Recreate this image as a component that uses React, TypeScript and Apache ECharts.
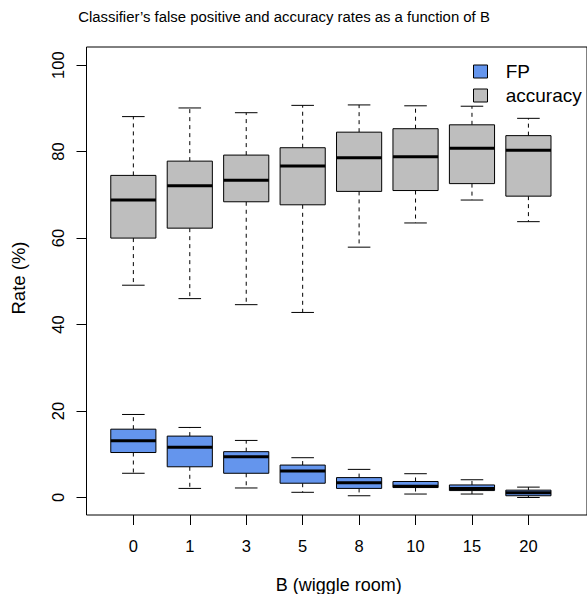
import React, { useEffect, useRef } from "react";
import * as echarts from "echarts";

const categories = ["0", "1", "3", "5", "8", "10", "15", "20"];

const accLow = [49.1, 46.0, 44.6, 42.8, 57.9, 63.5, 68.8, 63.8];
const accQ1 = [60.0, 62.3, 68.4, 67.7, 70.8, 71.0, 72.6, 69.7];
const accMed = [68.8, 72.1, 73.4, 76.7, 78.6, 78.8, 80.8, 80.3];
const accQ3 = [74.5, 77.8, 79.2, 80.9, 84.5, 85.3, 86.2, 83.7];
const accHigh = [88.1, 90.1, 89.0, 90.7, 90.8, 90.6, 90.5, 87.7];

const fpLow = [5.6, 2.1, 2.2, 1.2, 0.4, 0.8, 0.8, 0.0];
const fpQ1 = [10.4, 7.1, 5.6, 3.3, 2.1, 2.3, 1.6, 0.4];
const fpMed = [13.1, 11.6, 9.4, 6.1, 3.4, 2.6, 2.1, 1.1];
const fpQ3 = [15.8, 14.2, 10.6, 7.5, 4.6, 3.7, 2.9, 1.7];
const fpHigh = [19.2, 16.2, 13.2, 9.2, 6.5, 5.5, 4.1, 2.4];

const yTicks = [0, 20, 40, 60, 80, 100];

const FONT = "'Liberation Sans', Arial, Helvetica, sans-serif";
const FP_COLOR = "#6495ED";
const ACC_COLOR = "#BEBEBE";

function buildData(low: number[], q1: number[], med: number[], q3: number[], high: number[]) {
  return categories.map((_, i) => [i + 1, low[i], q1[i], med[i], q3[i], high[i]]);
}

function renderBox(params: any, api: any) {
  const x = api.value(0);
  const pLow = api.coord([x, api.value(1)]);
  const pQ1 = api.coord([x, api.value(2)]);
  const pMed = api.coord([x, api.value(3)]);
  const pQ3 = api.coord([x, api.value(4)]);
  const pHigh = api.coord([x, api.value(5)]);
  const w = api.size([0.8, 0])[0];
  const cx = pLow[0];
  const fill = api.visual("color");
  const dash = { stroke: "#000", lineWidth: 1, lineDash: [4, 4] };
  const solid = { stroke: "#000", lineWidth: 1 };
  return {
    type: "group",
    children: [
      { type: "line", shape: { x1: cx, y1: pQ3[1], x2: cx, y2: pHigh[1] }, style: dash },
      { type: "line", shape: { x1: cx, y1: pQ1[1], x2: cx, y2: pLow[1] }, style: dash },
      { type: "line", shape: { x1: cx - w / 4, y1: pHigh[1], x2: cx + w / 4, y2: pHigh[1] }, style: solid },
      { type: "line", shape: { x1: cx - w / 4, y1: pLow[1], x2: cx + w / 4, y2: pLow[1] }, style: solid },
      {
        type: "rect",
        shape: { x: cx - w / 2, y: pQ3[1], width: w, height: pQ1[1] - pQ3[1] },
        style: { fill, stroke: "#000", lineWidth: 1 },
      },
      {
        type: "line",
        shape: { x1: cx - w / 2, y1: pMed[1], x2: cx + w / 2, y2: pMed[1] },
        style: { stroke: "#000", lineWidth: 3 },
      },
    ],
  };
}

export default function App() {
  const ref = useRef<HTMLDivElement>(null);
  useEffect(() => {
    if (!ref.current) return;
    const chart = echarts.init(ref.current, undefined, { renderer: "svg" });
    const xTickValues = categories.map((_, i) => i + 1);
    chart.setOption({
      animation: false,
      backgroundColor: "#fff",
      textStyle: { fontFamily: FONT },
      grid: {
        left: 86.5,
        top: 47,
        width: 520,
        height: 468,
        show: true,
        borderColor: "#000",
        borderWidth: 1,
        backgroundColor: "transparent",
      },
      xAxis: {
        type: "value",
        position: "bottom",
        min: 0.17,
        max: 9.038,
        axisLine: { show: false, onZero: false },
        splitLine: { show: false },
        axisTick: { show: true, length: 10, customValues: xTickValues, lineStyle: { color: "#000", width: 1 } },
        axisLabel: {
          customValues: xTickValues,
          formatter: (v: number) => categories[Math.round(v) - 1],
          fontSize: 16.5,
          color: "#000",
          margin: 22,
          fontFamily: FONT,
        },
      },
      yAxis: {
        type: "value",
        position: "left",
        min: -4.05,
        max: 104.2,
        axisLine: { show: false, onZero: false },
        splitLine: { show: false },
        axisTick: { show: true, length: 10, customValues: yTicks, lineStyle: { color: "#000", width: 1 } },
        axisLabel: {
          customValues: yTicks,
          rotate: 90,
          fontSize: 16.5,
          color: "#000",
          margin: 20,
          fontFamily: FONT,
        },
      },
      series: [
        {
          name: "FP",
          type: "custom",
          renderItem: renderBox,
          itemStyle: { color: FP_COLOR },
          encode: { x: 0, y: [1, 2, 3, 4, 5] },
          data: buildData(fpLow, fpQ1, fpMed, fpQ3, fpHigh),
        },
        {
          name: "accuracy",
          type: "custom",
          renderItem: renderBox,
          itemStyle: { color: ACC_COLOR },
          encode: { x: 0, y: [1, 2, 3, 4, 5] },
          data: buildData(accLow, accQ1, accMed, accQ3, accHigh),
        },
      ],
      graphic: [
        {
          type: "text",
          x: 284,
          y: 17,
          style: {
            text: "Classifier\u2019s false positive and accuracy rates as a function of B",
            fontSize: 14.9,
            fontFamily: FONT,
            fill: "#000",
            textAlign: "center",
            textVerticalAlign: "middle",
          },
        },
        {
          type: "text",
          x: 338.8,
          y: 585,
          style: {
            text: "B (wiggle room)",
            fontSize: 18,
            fontFamily: FONT,
            fill: "#000",
            textAlign: "center",
            textVerticalAlign: "middle",
          },
        },
        {
          type: "text",
          x: 18.5,
          y: 278,
          rotation: Math.PI / 2,
          style: {
            text: "Rate (%)",
            fontSize: 18.5,
            fontFamily: FONT,
            fill: "#000",
            textAlign: "center",
            textVerticalAlign: "middle",
          },
        },
        {
          type: "rect",
          shape: { x: 473.5, y: 65, width: 14, height: 13 },
          style: { fill: FP_COLOR, stroke: "#000", lineWidth: 1 },
        },
        {
          type: "rect",
          shape: { x: 473.5, y: 89, width: 14, height: 13 },
          style: { fill: ACC_COLOR, stroke: "#000", lineWidth: 1 },
        },
        {
          type: "text",
          x: 505.7,
          y: 71.5,
          style: { text: "FP", fontSize: 19, fontFamily: FONT, fill: "#000", textAlign: "left", textVerticalAlign: "middle" },
        },
        {
          type: "text",
          x: 505.7,
          y: 95.5,
          style: { text: "accuracy", fontSize: 19, fontFamily: FONT, fill: "#000", textAlign: "left", textVerticalAlign: "middle" },
        },
      ],
    });
    return () => chart.dispose();
  }, []);
  return (
    <div
      ref={ref}
      style={{ position: "fixed", left: 0, top: 0, width: 587, height: 594, background: "#fff" }}
    />
  );
}
